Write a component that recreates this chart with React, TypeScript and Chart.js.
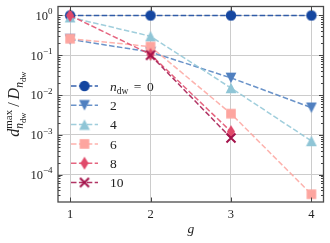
import React, { useEffect, useRef } from 'react';
import { Chart, registerables } from 'chart.js';

Chart.register(...registerables);

// ---- data ----
const gValues = [1, 2, 3, 4];
const seriesLabels = ['0', '2', '4', '6', '8', '10'];
const ndw0 = [1, 1, 1, 1];
const ndw2 = [0.25, 0.12, 0.027, 0.0048];
const ndw4 = [0.9, 0.3, 0.015, 0.0007];
const ndw6 = [0.26, 0.165, 0.0034, 0.000032];
const ndw8 = [1, 0.105, 0.0012, null];
const ndw10 = [null, 0.1, 0.00083, null];
const xTickValues = [1, 2, 3, 4];
const yMajorValues = [1, 0.1, 0.01, 0.001, 0.0001];
const yMajorExponents = ['0', '−1', '−2', '−3', '−4'];

const seriesValues = [ndw0, ndw2, ndw4, ndw6, ndw8, ndw10];
const seriesColors = ['#1446a0', '#5080c0', '#8fc5d6', '#fda59f', '#e04a6a', '#a3124a'];
const seriesMarkers = ['circle', 'triDown', 'triUp', 'square', 'thinDiamond', 'cross'];

const SERIF = '"Liberation Serif", "DejaVu Serif", serif';
const X_MIN = 0.85;
const X_MAX = 4.15;
const Y_MIN = Math.pow(10, -4.69);
const Y_MAX = Math.pow(10, 0.225);

function hexA(hex: string, a: number) {
  const n = parseInt(hex.slice(1), 16);
  return `rgba(${(n >> 16) & 255},${(n >> 8) & 255},${n & 255},${a})`;
}

function makeMarker(kind: string, color: string): HTMLCanvasElement {
  const c = document.createElement('canvas');
  let w = 12, h = 12;
  if (kind === 'thinDiamond') { w = 10; h = 14; }
  c.width = w; c.height = h;
  const ctx = c.getContext('2d')!;
  ctx.fillStyle = color;
  ctx.strokeStyle = color;
  const cx = w / 2, cy = h / 2;
  ctx.beginPath();
  if (kind === 'circle') {
    ctx.arc(cx, cy, 5.2, 0, Math.PI * 2);
    ctx.fill();
  } else if (kind === 'triDown') {
    ctx.moveTo(cx - 5.4, cy - 5.2); ctx.lineTo(cx + 5.4, cy - 5.2); ctx.lineTo(cx, cy + 5.2); ctx.closePath(); ctx.fill();
  } else if (kind === 'triUp') {
    ctx.moveTo(cx - 5.4, cy + 5.2); ctx.lineTo(cx + 5.4, cy + 5.2); ctx.lineTo(cx, cy - 5.2); ctx.closePath(); ctx.fill();
  } else if (kind === 'square') {
    ctx.rect(cx - 4.8, cy - 4.8, 9.6, 9.6); ctx.fill();
  } else if (kind === 'thinDiamond') {
    ctx.moveTo(cx, cy - 6.6); ctx.lineTo(cx + 4.1, cy); ctx.lineTo(cx, cy + 6.6); ctx.lineTo(cx - 4.1, cy); ctx.closePath(); ctx.fill();
  } else if (kind === 'cross') {
    ctx.lineWidth = 2;
    ctx.moveTo(cx - 4.5, cy - 4.5); ctx.lineTo(cx + 4.5, cy + 4.5);
    ctx.moveTo(cx + 4.5, cy - 4.5); ctx.lineTo(cx - 4.5, cy + 4.5);
    ctx.stroke();
  }
  return c;
}

function isPow10(v: number) {
  const l = Math.log10(v);
  return Math.abs(l - Math.round(l)) < 1e-6;
}

type Seg = { t: string; size: number; italic?: boolean; dy?: number; sp?: number; stackTop?: Seg[]; stackBot?: Seg[] };

function fontOf(s: Seg) {
  return `${s.italic ? 'italic ' : ''}${s.size}px ${SERIF}`;
}

function segWidth(ctx: CanvasRenderingContext2D, segs: Seg[]): number {
  let w = 0;
  for (const s of segs) {
    if (s.sp) { w += s.sp; continue; }
    if (s.stackTop || s.stackBot) {
      w += Math.max(segWidth(ctx, s.stackTop || []), segWidth(ctx, s.stackBot || []));
    } else {
      ctx.font = fontOf(s);
      w += ctx.measureText(s.t).width;
    }
  }
  return w;
}

function drawSegs(ctx: CanvasRenderingContext2D, segs: Seg[], x: number, y: number): number {
  for (const s of segs) {
    if (s.sp) { x += s.sp; continue; }
    if (s.stackTop || s.stackBot) {
      const wt = s.stackTop ? drawSegs(ctx, s.stackTop, x, y) - x : 0;
      const wb = s.stackBot ? drawSegs(ctx, s.stackBot, x, y) - x : 0;
      x += Math.max(wt, wb);
    } else {
      ctx.font = fontOf(s);
      ctx.fillText(s.t, x, y + (s.dy || 0));
      x += ctx.measureText(s.t).width;
    }
  }
  return x;
}

const customPlugin = {
  id: 'customDecor',
  afterDraw(chart: any) {
    const ctx: CanvasRenderingContext2D = chart.ctx;
    const a = chart.chartArea;
    const xs = chart.scales.x;
    const ys = chart.scales.y;
    ctx.save();
    ctx.textBaseline = 'alphabetic';
    ctx.textAlign = 'left';
    ctx.fillStyle = '#222';

    // inward tick marks
    ctx.strokeStyle = '#444';
    ctx.lineWidth = 1;
    ctx.beginPath();
    for (const t of ys.ticks) {
      const y = Math.round(ys.getPixelForValue(t.value)) + 0.5;
      const L = isPow10(t.value) ? 4.5 : 2.5;
      ctx.moveTo(a.left, y); ctx.lineTo(a.left + L, y);
      ctx.moveTo(a.right, y); ctx.lineTo(a.right - L, y);
    }
    for (const t of xs.ticks) {
      const x = Math.round(xs.getPixelForValue(t.value)) + 0.5;
      ctx.moveTo(x, a.bottom); ctx.lineTo(x, a.bottom - 4.5);
      ctx.moveTo(x, a.top); ctx.lineTo(x, a.top + 4.5);
    }
    ctx.stroke();

    // frame
    ctx.strokeStyle = '#4a4a4a';
    ctx.lineWidth = 1.3;
    ctx.strokeRect(a.left, a.top, a.right - a.left, a.bottom - a.top);

    // y tick labels (10^n)
    yMajorValues.forEach((v, i) => {
      const y = ys.getPixelForValue(v);
      const segs: Seg[] = [
        { t: '10', size: 12.5 },
        { t: yMajorExponents[i], size: 9, dy: -5.5 },
      ];
      const w = segWidth(ctx, segs);
      drawSegs(ctx, segs, a.left - 5.5 - w, y + 4.3);
    });

    // x axis title
    ctx.font = `italic 13.5px ${SERIF}`;
    ctx.textAlign = 'center';
    ctx.fillText('g', (a.left + a.right) / 2, 233);
    ctx.textAlign = 'left';

    // y axis title
    const sub: Seg[] = [{ t: 'n', size: 11.5, italic: true, dy: 4 }, { t: 'dw', size: 8.5, dy: 6.5 }];
    const title: Seg[] = [
      { t: 'd', size: 16, italic: true },
      { t: '', size: 11, stackTop: [{ t: 'max', size: 11, dy: -7 }], stackBot: sub },
      { sp: 3, t: '', size: 0 },
      { t: '/', size: 16 },
      { sp: 3, t: '', size: 0 },
      { t: 'D', size: 16, italic: true },
      { t: '', size: 11, stackBot: sub },
    ];
    ctx.save();
    ctx.translate(14.5, (a.top + a.bottom) / 2);
    ctx.rotate(-Math.PI / 2);
    const tw = segWidth(ctx, title);
    drawSegs(ctx, title, -tw / 2, 4.5);
    ctx.restore();

    // legend
    const rowY0 = 86;
    const rowStep = 19.3;
    chart.data.datasets.forEach((ds: any, i: number) => {
      const y = rowY0 + i * rowStep;
      ctx.save();
      ctx.strokeStyle = ds.borderColor;
      ctx.lineWidth = 1.5;
      ctx.setLineDash([5.5, 2.4]);
      ctx.beginPath();
      ctx.moveTo(71, y); ctx.lineTo(98, y);
      ctx.stroke();
      ctx.restore();
      const img: HTMLCanvasElement = ds.pointStyle;
      ctx.drawImage(img, 84.5 - img.width / 2, y - img.height / 2);
      ctx.fillStyle = '#222';
      const label: Seg[] = i === 0
        ? [
            { t: 'n', size: 13.5, italic: true },
            { t: 'dw', size: 9.5, dy: 3 },
            { sp: 5.5, t: '', size: 0 },
            { t: '=', size: 13.5 },
            { sp: 5.5, t: '', size: 0 },
            { t: seriesLabels[i], size: 13.5 },
          ]
        : [{ t: seriesLabels[i], size: 13.5 }];
      drawSegs(ctx, label, 110, y + 4.6);
    });

    ctx.restore();
  },
};

export default function App() {
  const ref = useRef<HTMLCanvasElement>(null);
  useEffect(() => {
    document.body.style.margin = '0';
    const canvas = ref.current!;
    const datasets = seriesValues.map((vals, i) => ({
      label: seriesLabels[i],
      data: gValues.map((g, j) => ({ x: g, y: vals[j] })),
      borderColor: hexA(seriesColors[i], 0.85),
      backgroundColor: seriesColors[i],
      borderWidth: 1.5,
      borderDash: [5.5, 2.4],
      pointStyle: makeMarker(seriesMarkers[i], seriesColors[i]),
      pointRadius: 5,
      pointHoverRadius: 5,
      showLine: true,
      spanGaps: false,
      order: seriesValues.length - i,
    }));
    const chart = new Chart(canvas, {
      type: 'scatter',
      data: { datasets: datasets as any },
      options: {
        animation: false,
        responsive: false,
        devicePixelRatio: 1,
        layout: { padding: { top: 5, right: 4, left: 0, bottom: 0 } },
        plugins: { legend: { display: false }, tooltip: { enabled: false } },
        scales: {
          x: {
            type: 'linear',
            min: X_MIN,
            max: X_MAX,
            afterBuildTicks: (s: any) => { s.ticks = xTickValues.map((v) => ({ value: v })); },
            afterFit: (s: any) => { s.height = 41; },
            grid: { color: '#cccccc', lineWidth: 1, drawTicks: false },
            border: { display: false },
            ticks: {
              font: { family: SERIF, size: 12.5 },
              color: '#222',
              padding: 5,
              maxRotation: 0,
              callback: (v: any) => String(v),
            },
          },
          y: {
            type: 'logarithmic',
            min: Y_MIN,
            max: Y_MAX,
            afterBuildTicks: (s: any) => {
              const t: any[] = [];
              for (let e = -5; e <= 0; e++) {
                for (let k = 1; k <= 9; k++) {
                  const v = k * Math.pow(10, e);
                  if (v >= Y_MIN && v <= Y_MAX) t.push({ value: v, major: k === 1 });
                }
              }
              s.ticks = t;
            },
            afterFit: (s: any) => { s.width = 58; },
            grid: {
              color: (c: any) => (c.tick && isPow10(c.tick.value) ? '#cccccc' : 'rgba(0,0,0,0)'),
              lineWidth: 1,
              drawTicks: false,
            },
            border: { display: false },
            ticks: { display: false },
          },
        },
      },
      plugins: [customPlugin],
    });
    return () => chart.destroy();
  }, []);
  return (
    <div style={{ width: 330, height: 243 }}>
      <canvas ref={ref} width={330} height={243} />
    </div>
  );
}
